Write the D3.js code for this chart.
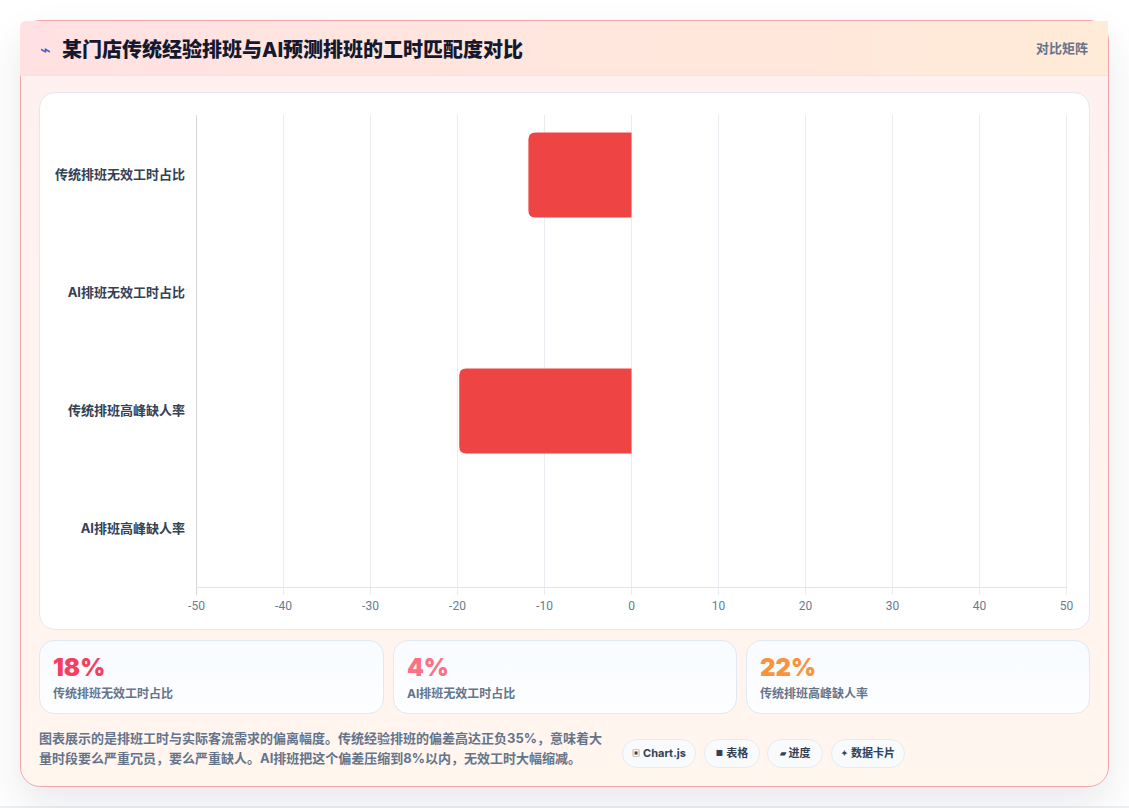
<!DOCTYPE html>
<html lang="zh-CN">
<head>
<meta charset="utf-8">
<title>排班工时匹配度对比</title>
<script src="https://cdn.jsdelivr.net/npm/d3@7/dist/d3.min.js"></script>
<style>
  html, body { margin: 0; padding: 0; }
  body { width: 1129px; height: 808px; background: #fff; overflow: hidden; position: relative;
         font-family: Inter, Roboto, "Noto Sans CJK SC", sans-serif; }
  .floor { position: absolute; left: 0; top: 806px; width: 1129px; height: 2px; background: #eef0f4; }
  .card { position: absolute; left: 20px; top: 20px; width: 1089px; height: 767px; box-sizing: border-box;
          border: 1px solid #f2a5ab; border-radius: 20px;
          background: linear-gradient(180deg, #fff0f1 0%, #fff6ee 100%);
          box-shadow: 0 18px 40px rgba(30, 41, 59, 0.10); }
  .head { position: absolute; left: 20px; top: 21px; width: 1088px; height: 55px; box-sizing: border-box;
          background: linear-gradient(90deg, #ffe1e3 0%, #ffebd8 100%);
          border-bottom: 1px solid #ebe4ea; border-top-left-radius: 6px; }
  .bolt { position: absolute; left: 40px; top: 36px; font-size: 18px; line-height: 28px; color: #4656c8; font-weight: 400; }
  .title { position: absolute; left: 62px; top: 36px; font-size: 20px; line-height: 28px; font-weight: 800; color: #14192e;
           font-family: Inter, "Noto Sans CJK SC", sans-serif; white-space: nowrap; }
  .tag { position: absolute; right: 41px; top: 38px; font-size: 13px; line-height: 20px; font-weight: 700; color: #64748b; }
  .panel { position: absolute; left: 39px; top: 92px; width: 1051px; height: 538px; box-sizing: border-box;
           background: #fff; border: 1px solid #e3e8f0; border-radius: 16px; }
  svg.plot { position: absolute; left: 0; top: 0; }
  .stat { position: absolute; top: 640px; height: 74px; box-sizing: border-box; border: 1px solid #e0e8f4; border-radius: 15px;
          background: linear-gradient(180deg, #f8fbff 0%, #fdfeff 100%); }
  .stat b { position: absolute; left: 13px; top: 12px; font-size: 24px; line-height: 30px; font-weight: 900; }
  .stat span { position: absolute; left: 13px; top: 45px; font-size: 12px; line-height: 16px; font-weight: 700; color: #64748b; white-space: nowrap; }
  .note { position: absolute; left: 39px; top: 728px; width: 566px; font-size: 13px; line-height: 20px; font-weight: 700; color: #64748b; white-space: nowrap; }
  .pill { position: absolute; top: 739px; height: 29px; box-sizing: border-box; border: 1px solid #e6ebf3; border-radius: 15px;
          background: #f8fafc; font-size: 11px; line-height: 27px; font-weight: 700; color: #334155; text-align: center; white-space: nowrap; }
  .pill i { font-style: normal; font-size: 8px; margin-right: 3px; vertical-align: 1px; }
</style>
</head>
<body>
<script>
// Deviation of scheduled hours from demand, one row per indicator
const categories = ["传统排班无效工时占比", "AI排班无效工时占比", "传统排班高峰缺人率", "AI排班高峰缺人率"];
const deviation = [-11.85, 0, -19.8, 0];
const xTicks = [-50, -40, -30, -20, -10, 0, 10, 20, 30, 40, 50];

const titleText = "某门店传统经验排班与AI预测排班的工时匹配度对比";
const tagText = "对比矩阵";
const statValues = ["18%", "4%", "22%"];
const statLabels = ["传统排班无效工时占比", "AI排班无效工时占比", "传统排班高峰缺人率"];
const statColors = ["#f43f5e", "#fb7185", "#fb923c"];
const statLefts = [39, 393, 746];
const statWidths = [345, 344, 344];
const noteLines = ["图表展示的是排班工时与实际客流需求的偏离幅度。传统经验排班的偏差高达正负35%，意味着大",
                   "量时段要么严重冗员，要么严重缺人。AI排班把这个偏差压缩到8%以内，无效工时大幅缩减。"];
const pillIcons = ["▣", "■", "▰", "✦"];
const pillLabels = ["Chart.js", "表格", "进度", "数据卡片"];
const pillLefts = [622, 704, 767, 831];
const pillWidths = [74, 56, 56, 74];

const body = d3.select("body");
body.append("div").attr("class", "floor");
body.append("div").attr("class", "card");
body.append("div").attr("class", "head");
body.append("div").attr("class", "bolt").text("⌁");
body.append("div").attr("class", "title").text(titleText);
body.append("div").attr("class", "tag").text(tagText);
body.append("div").attr("class", "panel");

// Horizontal bar plot
const svg = body.append("svg").attr("class", "plot").attr("width", 1129).attr("height", 808);
const x = d3.scaleLinear().domain([-50, 50]).range([196.5, 1066.5]);
const y = d3.scaleBand().domain(categories).range([116, 588]).paddingInner(0.28).paddingOuter(0.14);

svg.append("g").selectAll("line").data(xTicks).join("line")
  .attr("x1", d => x(d)).attr("x2", d => x(d))
  .attr("y1", 115).attr("y2", 595)
  .attr("stroke", d => d === -50 ? "#d4d8de" : "#e9ecf0").attr("stroke-width", 1);

svg.append("line").attr("x1", 196).attr("x2", 1067).attr("y1", 587.5).attr("y2", 587.5)
  .attr("stroke", "#e1e4e8");

svg.append("g").selectAll("text").data(xTicks).join("text")
  .attr("x", d => x(d)).attr("y", 610).attr("text-anchor", "middle")
  .attr("font-family", "Roboto, sans-serif").attr("font-size", 12).attr("fill", "#6b7a90")
  .text(d => d);

svg.append("g").selectAll("text").data(categories).join("text")
  .attr("x", 185).attr("y", d => y(d) + y.bandwidth() / 2 + 3.5).attr("text-anchor", "end")
  .attr("font-size", 13).attr("font-weight", 700).attr("fill", "#334155")
  .text(d => d);

// Bars grow left from zero, with only the outer end rounded
const r = 7;
svg.append("g").selectAll("path").data(categories.map((c, i) => ({ c, v: deviation[i] })).filter(d => d.v !== 0)).join("path")
  .attr("fill", "#ef4444")
  .attr("d", d => {
    const x0 = x(0), x1 = x(d.v), t = y(d.c), b = t + y.bandwidth();
    return `M${x0},${t}H${x1 + r}Q${x1},${t} ${x1},${t + r}V${b - r}Q${x1},${b} ${x1 + r},${b}H${x0}Z`;
  });

// Summary cards
const stats = body.selectAll("div.stat").data(statValues).join("div").attr("class", "stat")
  .style("left", (d, i) => statLefts[i] + "px").style("width", (d, i) => statWidths[i] + "px");
stats.append("b").style("color", (d, i) => statColors[i]).text(d => d);
stats.append("span").text((d, i) => statLabels[i]);

body.append("div").attr("class", "note").html(noteLines.join("<br>"));

const pills = body.selectAll("div.pill").data(pillLabels).join("div").attr("class", "pill")
  .style("left", (d, i) => pillLefts[i] + "px").style("width", (d, i) => pillWidths[i] + "px");
pills.append("i").text((d, i) => pillIcons[i]);
pills.append("span").text(d => d);
</script>
</body>
</html>
